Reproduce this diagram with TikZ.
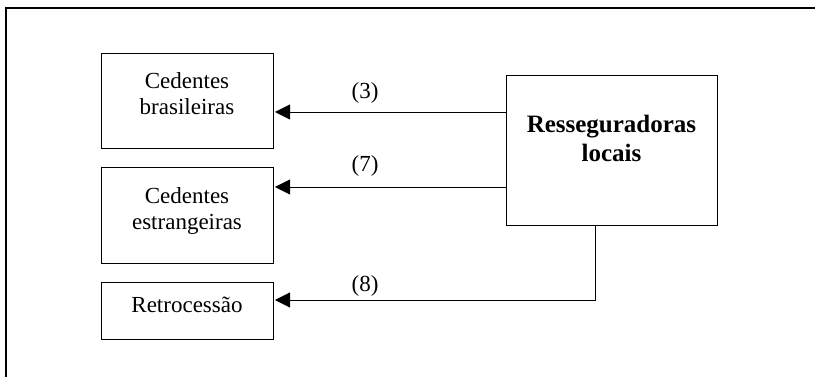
\documentclass[tikz,border=0pt]{standalone}
\usepackage{fontspec}
\setmainfont{Liberation Serif}
\usetikzlibrary{arrows.meta,positioning}
\tikzset{
    party/.style={draw, line width=0.9pt, align=center, inner sep=0pt, outer sep=0pt,
    font=\fontsize{23}{26}\selectfont, minimum width=172pt},
    flowlabel/.style={font=\fontsize{23}{26}\selectfont, inner sep=0pt},
}
\begin{document}
\begin{tikzpicture}[
            x=1pt, y=1pt,
            >={Triangle[length=15pt, width=15pt]},
            flow/.style={->, line width=0.9pt, shorten >=2pt},
        ]
            \useasboundingbox (0,0) rectangle (815,377);
            % frame
            \draw[line width=1.5pt] (815,369) -- (6,369) -- (6,0);
            % boxes
            \node[party, minimum height=95pt, text height=34pt, text depth=5pt] (cb) at (187,276.5) {Cedentes\\brasileiras};
            \node[party, minimum height=96pt, text height=35pt, text depth=5pt] (ce) at (187,162) {Cedentes\\estrangeiras};
            \node[party, minimum height=57pt, text height=16pt, text depth=11.6pt] (rt) at (187,66.5) {Retrocessão};
            \node[party, minimum width=211pt, minimum height=150pt, text height=29.4pt, text depth=6pt,
                font=\fontsize{25}{29}\selectfont\bfseries] (rl) at (611.5,227) {Resseguradoras\\locais};
            % flows
            \draw[flow] ([yshift=38pt]rl.west) -- ([yshift=38pt]rl.west -| cb.east);
            \draw[flow] ([yshift=-37pt]rl.west) -- ([yshift=-37pt]rl.west -| ce.east);
            \draw[flow] ([xshift=-16pt]rl.south) |- ([yshift=10.5pt]rt.east);
            % labels
            \node[flowlabel] (l3) at (365,284) {(3)};
            \node[flowlabel] (l7) at (365,211) {(7)};
            \node[flowlabel] (l8) at (365,91) {(8)};
        \end{tikzpicture}
\end{document}
